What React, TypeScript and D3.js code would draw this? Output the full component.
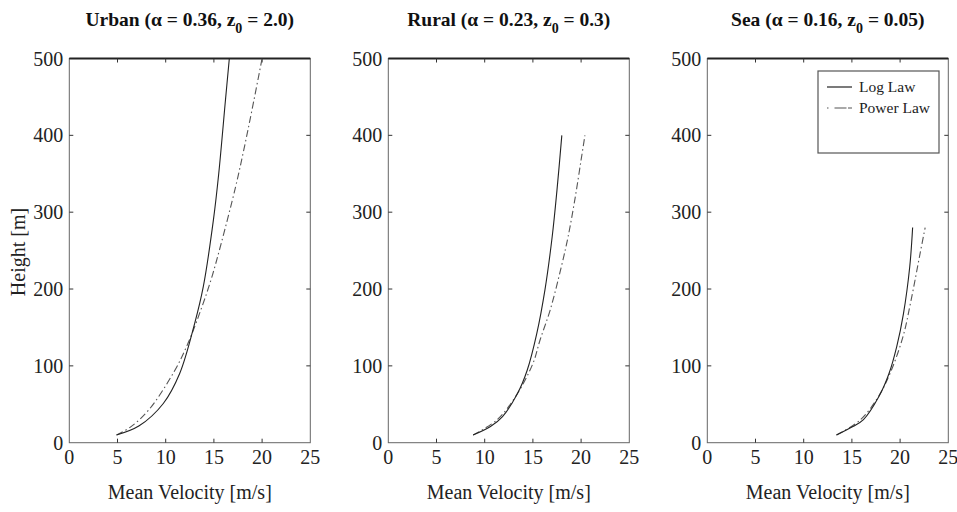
import React from "react";
import * as d3 from "d3";

// ---------- data ----------
const panelNames = ["Urban", "Rural", "Sea"];
const panelAlpha = ["0.36", "0.23", "0.16"];
const panelZ0 = ["2.0", "0.3", "0.05"];

const urbanLogH = [10, 22, 51, 90, 155, 203, 290, 350, 446, 500];
const urbanLogV = [4.9, 7.25, 9.75, 11.45, 13.0, 13.9, 14.95, 15.5, 16.2, 16.6];
const urbanPowH = [10, 20, 42, 92, 129, 173, 212, 259, 333, 381, 433, 500];
const urbanPowV = [4.9, 6.3, 8.2, 10.85, 12.3, 13.65, 14.7, 15.75, 17.25, 18.1, 18.95, 20.0];

const ruralLogH = [10, 21, 34, 64, 94, 142, 199, 268, 329, 400];
const ruralLogV = [8.8, 10.6, 11.85, 13.4, 14.4, 15.4, 16.25, 17.0, 17.5, 18.0];
const ruralPowH = [10, 30, 60, 103, 134, 173, 229, 268, 320, 368, 400];
const ruralPowV = [8.8, 11.3, 13.2, 15.0, 15.75, 16.8, 17.95, 18.65, 19.4, 20.0, 20.4];

const seaLogH = [10, 21, 30, 60, 90, 125, 168, 229, 280];
const seaLogV = [13.4, 15.1, 16.2, 17.8, 18.85, 19.65, 20.35, 21.0, 21.3];
const seaPowH = [10, 30, 60, 90, 138, 183, 248, 280];
const seaPowV = [13.4, 15.9, 17.75, 18.95, 20.3, 21.1, 22.1, 22.6];

const xTicks = [0, 5, 10, 15, 20, 25];
const yTicks = [0, 100, 200, 300, 400, 500];
const legendLabels = ["Log Law", "Power Law"];

const logSeries = [
  [urbanLogV, urbanLogH],
  [ruralLogV, ruralLogH],
  [seaLogV, seaLogH],
];
const powSeries = [
  [urbanPowV, urbanPowH],
  [ruralPowV, ruralPowH],
  [seaPowV, seaPowH],
];

// ---------- layout ----------
const W = 957;
const H = 512;
const panelLeft = [69.3, 388.3, 707.3];
const panelWidth = 241;
const top = 58.5;
const bottom = 442.7;
const font = "'Liberation Serif', 'Times New Roman', serif";

function Panel({ i }: { i: number }) {
  const x = d3.scaleLinear().domain([0, 25]).range([panelLeft[i], panelLeft[i] + panelWidth]);
  const y = d3.scaleLinear().domain([0, 500]).range([bottom, top]);
  const line = d3
    .line<[number, number]>()
    .x((d) => x(d[0]))
    .y((d) => y(d[1]))
    .curve(d3.curveCatmullRom.alpha(0.5));
  const toPts = (s: number[][]) => s[0].map((v, k) => [v, s[1][k]] as [number, number]);
  const cx = (x.range()[0] + x.range()[1]) / 2;
  const tl = 4;
  return (
    <g>
      {/* title */}
      <text x={cx} y={26} textAnchor="middle" fontFamily={font} fontWeight="bold" fontSize={19.5} fill="#111">
        {`${panelNames[i]} (α = ${panelAlpha[i]}, z`}
        <tspan fontSize={14} dy={7}>0</tspan>
        <tspan dy={-7}>{` = ${panelZ0[i]})`}</tspan>
      </text>
      {/* frame */}
      <rect x={x(0)} y={y(500)} width={x(25) - x(0)} height={y(0) - y(500)} fill="white" stroke="#666" strokeWidth={1} />
      <line x1={x(0)} x2={x(25)} y1={y(500)} y2={y(500)} stroke="#222" strokeWidth={2} />
      {/* ticks */}
      {xTicks.slice(1, -1).map((t) => (
        <g key={"xt" + t}>
          <line x1={x(t)} x2={x(t)} y1={y(0)} y2={y(0) - tl} stroke="#333" />
          <line x1={x(t)} x2={x(t)} y1={y(500)} y2={y(500) + tl} stroke="#333" />
        </g>
      ))}
      {yTicks.slice(1, -1).map((t) => (
        <g key={"yt" + t}>
          <line x1={x(0)} x2={x(0) + tl} y1={y(t)} y2={y(t)} stroke="#333" />
          <line x1={x(25)} x2={x(25) - tl} y1={y(t)} y2={y(t)} stroke="#333" />
        </g>
      ))}
      {/* tick labels */}
      {xTicks.map((t) => (
        <text key={"xl" + t} x={x(t)} y={464} textAnchor="middle" fontFamily={font} fontSize={20} fill="#222">
          {t}
        </text>
      ))}
      {yTicks.map((t) => (
        <text key={"yl" + t} x={x(0) - 6} y={y(t) + 7} textAnchor="end" fontFamily={font} fontSize={20} fill="#222">
          {t}
        </text>
      ))}
      <text x={cx} y={499} textAnchor="middle" fontFamily={font} fontSize={20} fill="#222">
        Mean Velocity [m/s]
      </text>
      {/* curves */}
      <path d={line(toPts(powSeries[i])) || ""} fill="none" stroke="#555" strokeWidth={1.1} strokeDasharray="7,3,1.5,3" />
      <path d={line(toPts(logSeries[i])) || ""} fill="none" stroke="#222" strokeWidth={1.1} />
    </g>
  );
}

export default function App() {
  return (
    <svg width={W} height={H} style={{ position: "absolute", left: 0, top: 0, background: "white" }}>
      <rect width={W} height={H} fill="white" />
      {[0, 1, 2].map((i) => (
        <Panel key={i} i={i} />
      ))}
      <text
        transform={`translate(25, 252) rotate(-90)`}
        textAnchor="middle"
        fontFamily={font}
        fontSize={20}
        fill="#222"
      >
        Height [m]
      </text>
      {/* legend */}
      <rect x={818} y={71} width={121} height={82} fill="white" stroke="#555" strokeWidth={1.2} />
      <line x1={827} x2={852} y1={87} y2={87} stroke="#222" strokeWidth={1.2} />
      <line x1={827} x2={852} y1={108} y2={108} stroke="#555" strokeWidth={1.1} strokeDasharray="1.5,6,12" />
      <text x={859} y={92} fontFamily={font} fontSize={15.5} fill="#222">
        {legendLabels[0]}
      </text>
      <text x={859} y={113} fontFamily={font} fontSize={15.5} fill="#222">
        {legendLabels[1]}
      </text>
    </svg>
  );
}
